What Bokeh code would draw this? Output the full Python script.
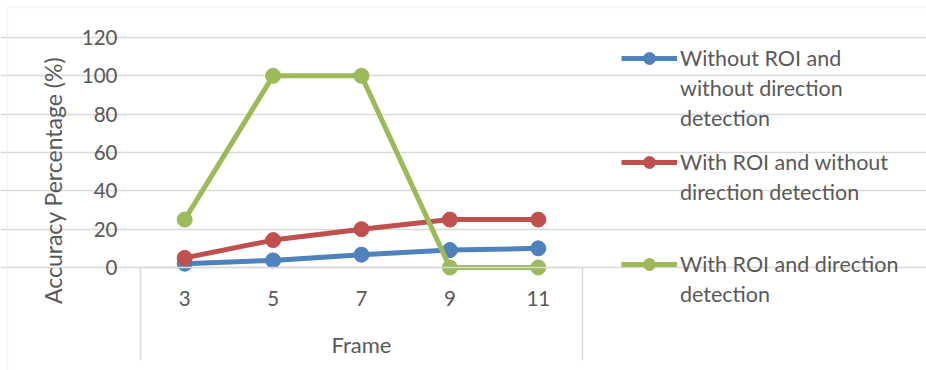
from bokeh.plotting import figure
from bokeh.models import FixedTicker, Legend, LegendItem, BoxAnnotation
from bokeh.embed import file_html
from bokeh.resources import INLINE

# Frame sizes (window) and accuracy (%) for each detection setup
frames = [3, 5, 7, 9, 11]
without_roi_without_dir = [2, 3.7, 6.7, 9.1, 10]
with_roi_without_dir = [5, 14.3, 20, 25, 25]
with_roi_with_dir = [25, 100, 100, 0, 0]

# legend text, one list entry per printed line
legend_lines = [
    ["Without ROI and", "without direction", "detection"],
    ["With ROI and without", "direction detection"],
    ["With ROI and direction", "detection"],
]
series_colors = ["#4F81BD", "#C0504D", "#9BBB59"]
y_ticks = [0, 20, 40, 60, 80, 100, 120]

FONT = "Lato"
TEXT = "#595959"
GRID = "#D9D9D9"

W, H = 926, 370
# plot area in canvas pixels; the frame spans the whole canvas and the
# ranges are chosen so that the category band / value axis land here
AREA_L, AREA_R, AREA_T, AREA_B = 140, 582, 37, 267
x_lo, x_hi = frames[0] - 1, frames[-1] + 1
y_lo, y_hi = y_ticks[0], y_ticks[-1]
kx = (AREA_R - AREA_L) / (x_hi - x_lo)
ky = (AREA_B - AREA_T) / (y_hi - y_lo)
x_range = (x_lo - AREA_L / kx, x_hi + (W - AREA_R) / kx)
y_range = (y_lo - (H - AREA_B) / ky, y_hi + AREA_T / ky)
axis_floor = y_lo - 93 / ky          # bottom of the category band

p = figure(width=W, height=H, output_backend="svg", toolbar_location=None,
           x_range=x_range, y_range=y_range,
           min_border=0, min_border_left=0, min_border_right=0,
           min_border_top=0, min_border_bottom=0)
p.outline_line_color = None
p.background_fill_color = "white"
p.border_fill_color = "white"

yt = FixedTicker(ticks=y_ticks)
xt = FixedTicker(ticks=frames)

# value axis placed at the left edge of the category band
ya = p.yaxis[0]
ya.fixed_location = x_lo
ya.ticker = yt
ya.bounds = (y_lo - 29.2, y_hi)
ya.axis_line_color = None
ya.major_tick_line_color = None
ya.minor_tick_line_color = None
ya.major_label_standoff = 17
ya.major_label_text_font = FONT
ya.major_label_text_font_size = "20.5px"
ya.major_label_text_color = TEXT
ya.axis_label = "Accuracy Percentage (%)"
ya.axis_label_standoff = 12
ya.axis_label_text_font = FONT
ya.axis_label_text_font_size = "23px"
ya.axis_label_text_font_style = "normal"
ya.axis_label_text_color = TEXT

# category axis on the zero line
xa = p.xaxis[0]
xa.fixed_location = y_lo
xa.ticker = xt
xa.bounds = (x_lo, x_hi)
xa.axis_line_color = GRID
xa.axis_line_width = 1.5
xa.major_tick_line_color = None
xa.minor_tick_line_color = None
xa.major_label_standoff = 17
xa.major_label_text_font = FONT
xa.major_label_text_font_size = "20.5px"
xa.major_label_text_color = TEXT
xa.axis_label = "Frame"
xa.axis_label_standoff = 22
xa.axis_label_text_font = FONT
xa.axis_label_text_font_size = "22px"
xa.axis_label_text_font_style = "normal"
xa.axis_label_text_color = TEXT

p.xgrid.grid_line_color = None
p.ygrid.ticker = yt
p.ygrid.bounds = (x_lo, x_hi)
p.ygrid.grid_line_color = GRID
p.ygrid.grid_line_width = 1.5

# side edges of the category band
p.segment(x0=[x_lo, x_hi], x1=[x_lo, x_hi], y0=[y_lo, y_lo],
          y1=[axis_floor, axis_floor], line_color=GRID, line_width=1.5)

# chart area border (top and left edges)
p.add_layout(BoxAnnotation(left=7, right=W + 20, top=H - 7, bottom=-20,
                           left_units="screen", right_units="screen",
                           top_units="screen", bottom_units="screen",
                           fill_color=None, line_color=GRID, line_width=1.5))

renderers = []
for vals, col in zip([without_roi_without_dir, with_roi_without_dir, with_roi_with_dir],
                     series_colors):
    ln = p.line(frames, vals, line_color=col, line_width=5)
    sc = p.scatter(frames, vals, marker="circle", size=15, fill_color=col, line_color=col)
    renderers.append([ln, sc])

# one legend block per series; first line carries the glyph
legend_bottoms = [237, 163, 61]
for rs, lines, bottom in zip(renderers, legend_lines, legend_bottoms):
    items = [LegendItem(label=lines[0], renderers=rs)]
    items += [LegendItem(label=t, renderers=[]) for t in lines[1:]]
    lg = Legend(items=items, location=(621, bottom), orientation="vertical",
                glyph_width=56, glyph_height=30, label_standoff=3, spacing=0,
                padding=0, margin=0, border_line_color=None,
                background_fill_alpha=0, label_height=30,
                label_text_font=FONT, label_text_font_size="21.5px",
                label_text_color=TEXT)
    p.add_layout(lg, "center")

open("out.html", "w").write(file_html(p, INLINE))
